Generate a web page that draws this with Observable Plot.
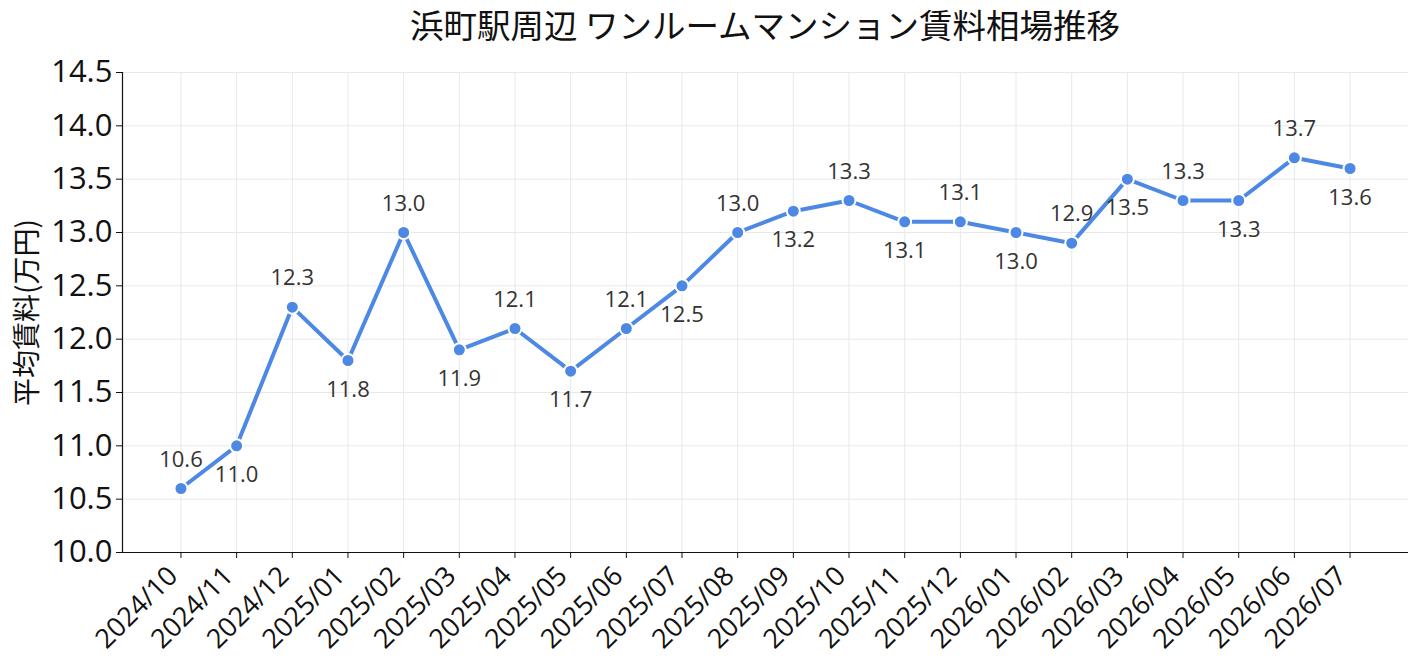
<!DOCTYPE html>
<html>
<head>
<meta charset="utf-8">
<script src="https://cdn.jsdelivr.net/npm/d3@7"></script>
<script src="https://cdn.jsdelivr.net/npm/@observablehq/plot@0.6"></script>
<style>
  body { margin: 0; background: #fff; font-family: "Open Sans", "Noto Sans CJK JP", sans-serif; }
  #title { height: 48px; line-height: 48px; text-align: center; font-size: 33.5px; color: #111; padding-left: 112px; font-family: "Noto Sans CJK JP", sans-serif; white-space: nowrap; }
  #chart svg { overflow: visible; }
</style>
</head>
<body>
<div id="title">浜町駅周辺 ワンルームマンション賃料相場推移</div>
<div id="chart"></div>
<script>
const months = ["2024/10","2024/11","2024/12","2025/01","2025/02","2025/03","2025/04","2025/05","2025/06","2025/07","2025/08","2025/09","2025/10","2025/11","2025/12","2026/01","2026/02","2026/03","2026/04","2026/05","2026/06","2026/07"];
const rents = [10.6,11.0,12.3,11.8,13.0,11.9,12.1,11.7,12.1,12.5,13.0,13.2,13.3,13.1,13.1,13.0,12.9,13.5,13.3,13.3,13.7,13.6];
const yTicks = [10.0,10.5,11.0,11.5,12.0,12.5,13.0,13.5,14.0,14.5];
const yLabel = "平均賃料(万円)";

const data = months.map((m, i) => ({month: m, rent: rents[i], i}));
const above = data.filter(d => d.i % 2 === 0);
const below = data.filter(d => d.i % 2 === 1);
const color = "#4e88e5";

const chart = Plot.plot({
  width: 1418,
  height: 623,
  marginTop: 24,
  marginBottom: 119,
  marginLeft: 122,
  marginRight: 10,
  style: {fontFamily: "'Open Sans', 'Noto Sans CJK JP', sans-serif", background: "#fff", overflow: "visible"},
  x: {type: "point", domain: months, padding: 1.05, round: false, label: null},
  y: {domain: [10.0, 14.5], label: null},
  marks: [
    Plot.gridX(months, {stroke: "#e8e8e8", strokeOpacity: 1, strokeWidth: 1}),
    Plot.gridY(yTicks, {stroke: "#e8e8e8", strokeOpacity: 1, strokeWidth: 1}),
    Plot.axisY({ticks: yTicks, tickFormat: d => d.toFixed(1), fontSize: 31, tickSize: 6, tickPadding: 4, color: "#111", label: null}),
    Plot.axisX({tickSize: 6, fill: "none", stroke: "#111", label: null}),
    Plot.axisX({tickRotate: -45, fontSize: 27, tickSize: 0, tickPadding: 19, dx: -8, fill: "#111", label: null}),
    Plot.ruleY([10.0], {stroke: "#111", strokeWidth: 1.2}),
    Plot.frame({anchor: "left", stroke: "#111", strokeWidth: 1.2}),
    Plot.text([yLabel], {frameAnchor: "left", textAnchor: "middle", rotate: -90, dx: -94, fontSize: 28, fill: "#111", fontFamily: "'Noto Sans CJK JP', sans-serif"}),
    Plot.line(data, {x: "month", y: "rent", stroke: color, strokeWidth: 4}),
    Plot.dot(data, {x: "month", y: "rent", r: 6.5, fill: color, stroke: "#fff", strokeWidth: 2}),
    Plot.text(above, {x: "month", y: "rent", text: d => d.rent.toFixed(1), dy: -29, fontSize: 22, fill: "#333"}),
    Plot.text(below, {x: "month", y: "rent", text: d => d.rent.toFixed(1), dy: 29, fontSize: 22, fill: "#333"})
  ]
});
document.getElementById("chart").appendChild(chart);
</script>
</body>
</html>
